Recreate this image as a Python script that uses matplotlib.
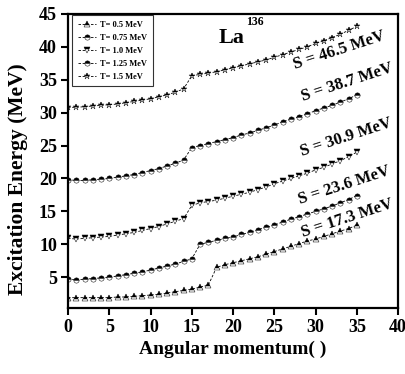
import matplotlib
matplotlib.use("Agg")
import matplotlib.pyplot as plt

plt.rcParams['font.family'] = ['Liberation Serif', 'DejaVu Serif']
plt.rcParams['font.weight'] = 'bold'

J = list(range(0, 36))

e_t050 = [1.9, 1.9, 1.9, 1.9, 1.9, 1.9, 2.0, 2.0, 2.1, 2.2, 2.3, 2.4, 2.6, 2.8, 3.0, 3.2, 3.5, 3.8,
          6.5, 6.9, 7.2, 7.5, 7.8, 8.1, 8.5, 8.9, 9.3, 9.7, 10.1, 10.5, 10.8, 11.2, 11.6, 12.0, 12.4, 12.9]
e_t075 = [4.7, 4.6, 4.7, 4.8, 4.9, 5.0, 5.2, 5.4, 5.6, 5.8, 6.1, 6.4, 6.7, 7.0, 7.4, 7.8,
          10.0, 10.3, 10.6, 10.9, 11.1, 11.5, 11.8, 12.2, 12.6, 12.9, 13.4, 13.8, 14.2, 14.6, 15.0,
          15.4, 15.8, 16.3, 16.8, 17.4]
e_t100 = [10.9, 10.8, 10.9, 11.0, 11.1, 11.2, 11.4, 11.6, 11.8, 12.1, 12.4, 12.7, 13.1, 13.5, 13.9,
          15.9, 16.3, 16.5, 16.7, 17.0, 17.3, 17.6, 17.9, 18.3, 18.7, 19.2, 19.6, 20.0, 20.4, 20.8,
          21.3, 21.7, 22.2, 22.7, 23.3, 24.0]
e_t125 = [19.8, 19.7, 19.7, 19.8, 19.9, 20.0, 20.2, 20.4, 20.6, 20.9, 21.2, 21.5, 21.9, 22.3, 22.8,
          24.7, 25.0, 25.3, 25.6, 25.9, 26.2, 26.6, 26.9, 27.3, 27.7, 28.1, 28.6, 29.0, 29.4, 29.8,
          30.3, 30.7, 31.1, 31.6, 32.1, 32.7]
e_t150 = [30.8, 30.8, 30.9, 31.0, 31.1, 31.2, 31.3, 31.5, 31.7, 31.9, 32.1, 32.4, 32.7, 33.1, 33.6,
          35.6, 35.8, 36.0, 36.2, 36.5, 36.8, 37.1, 37.4, 37.7, 38.0, 38.4, 38.8, 39.2, 39.6, 40.0,
          40.5, 40.9, 41.4, 41.9, 42.5, 43.1]

series = [e_t050, e_t075, e_t100, e_t125, e_t150]
labels = ["T= 0.5 MeV", "T= 0.75 MeV", "T= 1.0 MeV", "T= 1.25 MeV", "T= 1.5 MeV"]
markers = ["^", "o", "v", "o", "*"]

s_labels = ["S = 17.3 MeV", "S = 23.6 MeV", "S = 30.9 MeV", "S = 38.7 MeV", "S = 46.5 MeV"]
s_x = [33.8, 33.5, 33.7, 33.8, 32.8]
s_y = [14.0, 19.0, 26.2, 34.6, 39.4]

fig = plt.figure(figsize=(4.05, 3.74), dpi=100)
ax = fig.add_axes([0.168, 0.176, 0.815, 0.787])

for e, lab, m in zip(series, labels, markers):
    ax.plot(J, e, linestyle=(0, (3, 2)), color='black', linewidth=0.6,
            marker=m, markersize=3.8 if m != "*" else 5.0, fillstyle='top',
            markerfacecolor='black', markerfacecoloralt='white',
            markeredgecolor='black', markeredgewidth=0.35, label=lab)

for t, x, y in zip(s_labels, s_x, s_y):
    ax.text(x, y, t, rotation=18, ha='center', va='center', fontsize=12,
            fontweight='bold')

ax.text(18.2, 40.6, "La", fontsize=16, fontweight='bold', ha='left', va='baseline')
ax.text(21.6, 43.3, "136", fontsize=8.5, fontweight='bold', ha='left', va='baseline')

ax.set_xlim(0, 40)
ax.set_ylim(0.3, 45)
ax.set_xticks(range(0, 41, 5))
ax.set_yticks(range(5, 46, 5))
ax.tick_params(direction='out', length=5, width=1.5, labelsize=13, pad=3)
for lbl in ax.get_xticklabels() + ax.get_yticklabels():
    lbl.set_fontweight('bold')
for sp in ax.spines.values():
    sp.set_linewidth(1.6)

ax.set_xlabel("Angular momentum( )", fontsize=14, fontweight='bold', labelpad=3)
ax.set_ylabel("Excitation Energy (MeV)", fontsize=15.5, fontweight='bold')
ax.yaxis.set_label_coords(-0.122, 0.44)

leg = ax.legend(loc='upper left', fontsize=6, frameon=True, fancybox=False,
                edgecolor='black', handlelength=2.2, handletextpad=0.5,
                borderpad=0.7, labelspacing=0.6, borderaxespad=0.0,
                bbox_to_anchor=(0.012, 0.997))
leg.get_frame().set_linewidth(0.8)

fig.savefig("out.png", dpi=100)
